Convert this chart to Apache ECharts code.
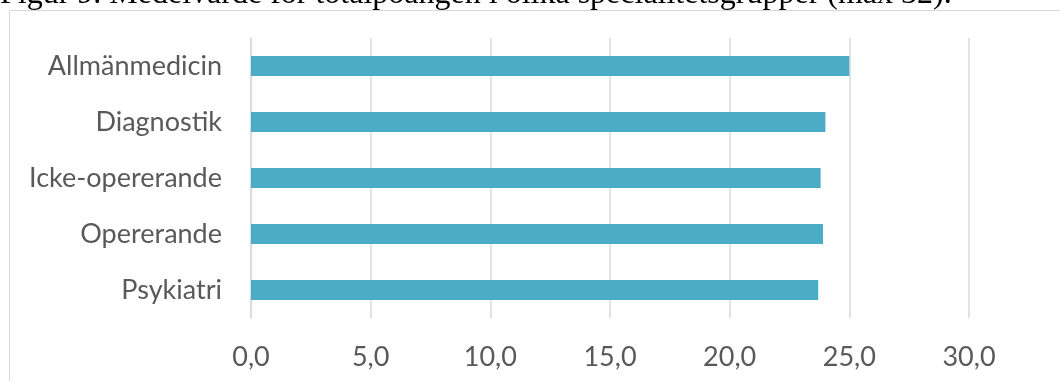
<!DOCTYPE html>
<html>
<head>
<meta charset="utf-8">
<script src="https://cdn.jsdelivr.net/npm/echarts@6/dist/echarts.min.js"></script>
<style>
  html, body { margin: 0; padding: 0; background: #fff; }
  #chart { width: 1060px; height: 381px; }
</style>
</head>
<body>
<div id="chart"></div>
<script>
// Specialty groups and their mean total score (max 32)
const categories = ['Allmänmedicin', 'Diagnostik', 'Icke-opererande', 'Opererande', 'Psykiatri'];
const meanScores = [25.0, 24.0, 23.8, 23.9, 23.7];
const figureTitle = 'Figur 9. Medelvärde för totalpoängen i olika specialitetsgrupper (max 32).';

const labelFont = 'Lato, "Open Sans", sans-serif';
const fmt = v => v.toFixed(1).replace('.', ',');

const chart = echarts.init(document.getElementById('chart'), null, { renderer: 'canvas' });
chart.setOption({
  animation: false,
  backgroundColor: '#ffffff',
  graphic: [
    {
      // figure caption sitting above the chart frame
      type: 'text',
      x: 0,
      y: -5.5,
      z: -20,
      style: {
        text: figureTitle,
        font: '32px "Liberation Serif", "Times New Roman", serif',
        fill: '#000000',
        verticalAlign: 'middle'
      },
      silent: true
    },
    {
      // chart frame (white fill hides the caption's descenders)
      type: 'rect',
      z: -10,
      shape: { x: 9.5, y: 10.5, width: 1200, height: 500 },
      style: { fill: '#ffffff', stroke: '#d9d9d9', lineWidth: 1 },
      silent: true
    }
  ],
  grid: { left: 251, right: 91, top: 38, bottom: 63, containLabel: false },
  xAxis: {
    type: 'value',
    min: 0,
    max: 30,
    interval: 5,
    axisLine: { show: false },
    axisTick: { show: false },
    splitLine: { show: true, lineStyle: { color: '#d9d9d9', width: 1.5 } },
    axisLabel: {
      formatter: fmt,
      color: '#595959',
      fontFamily: labelFont,
      fontSize: 27,
      margin: 26
    }
  },
  yAxis: {
    type: 'category',
    data: categories,
    inverse: true,
    axisLine: { show: true, lineStyle: { color: '#d9d9d9', width: 1.5 } },
    axisTick: { show: false },
    axisLabel: {
      color: '#595959',
      fontFamily: labelFont,
      fontSize: 27,
      margin: 29
    }
  },
  series: [{
    type: 'bar',
    data: meanScores,
    barWidth: 20,
    itemStyle: { color: '#4BACC6' }
  }]
});
</script>
</body>
</html>
